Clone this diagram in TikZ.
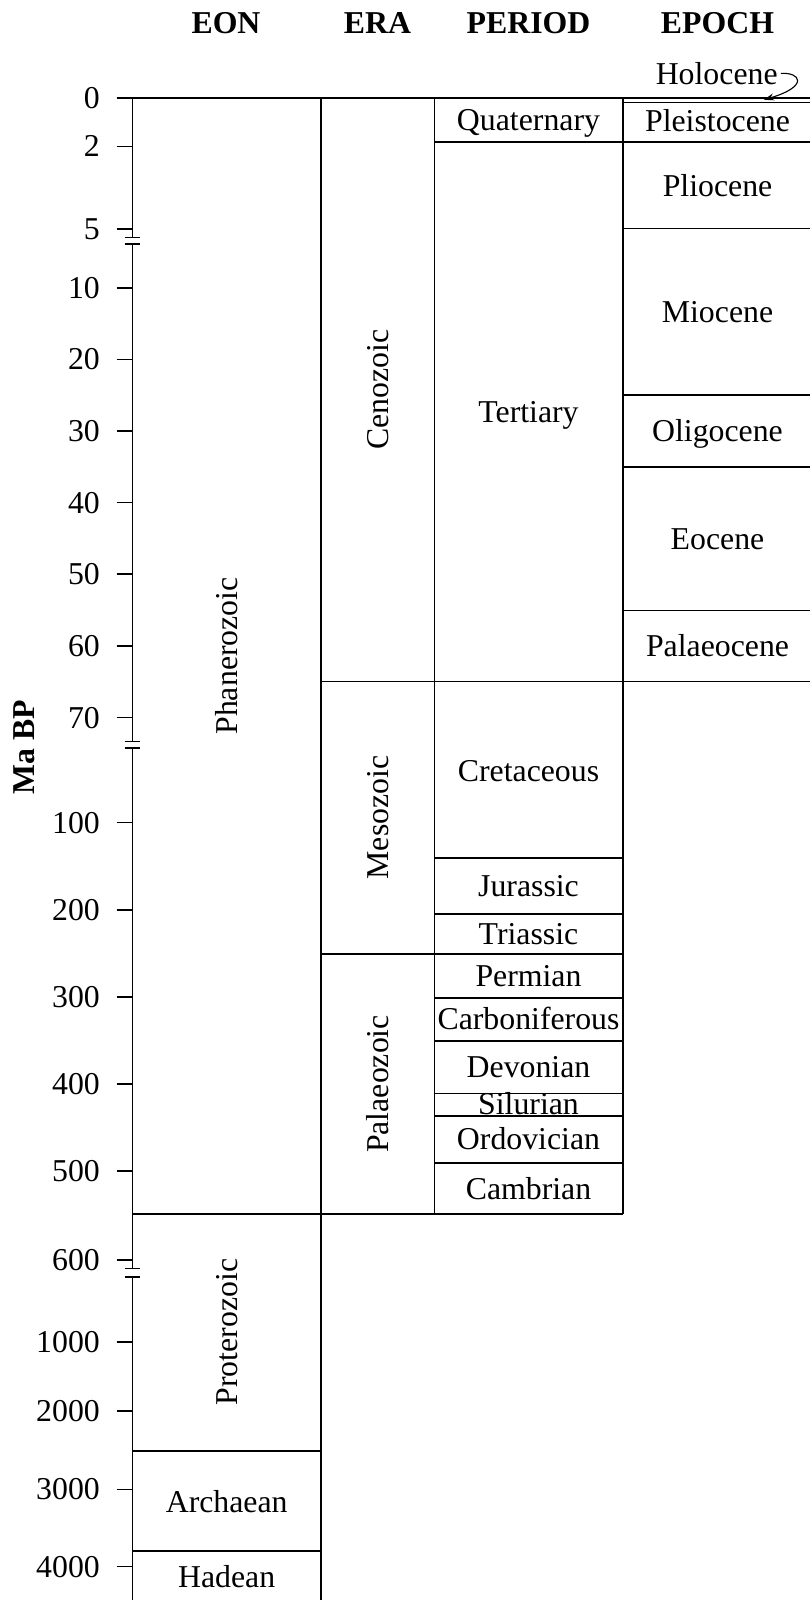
\documentclass[tikz,border=0pt]{standalone}
\usepackage{fontspec}
\setmainfont{Liberation Serif}
\usetikzlibrary{arrows.meta}
\begin{document}
\begin{tikzpicture}[x=1pt,y=-1pt,
  rule/.style={line width=1.6pt},
  lbl/.style={anchor=base, inner sep=0pt, font=\fontsize{31.8}{38}\selectfont},
  vlbl/.style={lbl, rotate=90},
  hdr/.style={anchor=base, inner sep=0pt, font=\fontsize{31.8}{38}\selectfont\bfseries},
  ticklbl/.style={anchor=base east, inner sep=0pt, font=\fontsize{31.8}{38}\selectfont},
  pointer/.style={line width=1.1pt, -{Stealth[length=10pt,width=7pt]}}]
\useasboundingbox (0,0) rectangle (810,1600);
\clip (0,0) rectangle (810,1600);

% headers
\node[hdr] (hEon) at (226,33.3) {EON};
\node[hdr] (hEra) at (377.5,33.3) {ERA};
\node[hdr] (hPer) at (528.5,33.3) {PERIOD};
\node[hdr] (hEpo) at (717.5,33.3) {EPOCH};
\node[hdr, rotate=90] (maBP) at (34.3,747) {Ma BP};

% axis with breaks
\draw[rule] (132.3,97.9) -- (132.3,237.3);
\draw[rule] (132.3,243.7) -- (132.3,741.4);
\draw[rule] (132.3,748.2) -- (132.3,1268.3);
\draw[rule] (132.3,1276.7) -- (132.3,1610);
\foreach \yb in {237.3,243.7,741.4,748.2,1268.3,1276.7}
  \draw[rule] (124.5,\yb) -- (139.8,\yb);

% ticks and labels
\foreach \v/\yt in {0/97.9,2/146.3,5/228.7,10/287.7,20/359.3,30/430.9,40/502.6,50/574.2,60/645.8,70/717.6,100/822.6,200/909.7,300/996.8,400/1083.9,500/1171,600/1260,1000/1341.7,2000/1411,3000/1489.4,4000/1566.5}{
  \draw[rule] (116.7,\yt) -- (132.3,\yt);
  \node[ticklbl] (tick\v) at (100,\yt+10.5) {\v};
}

% top border and vertical rules
\draw[rule] (116.7,97.9) -- (815,97.9);
\draw[rule] (321,97.9) -- (321,1610);
\draw[rule] (434.3,97.9) -- (434.3,1214);
\draw[rule] (622.8,97.9) -- (622.8,1214);

% epoch boundaries
\draw[rule] (622.8,102.4) -- (815,102.4);
\foreach \yb in {228.5,395.0,467.0,610.5}
  \draw[rule] (622.8,\yb) -- (815,\yb);
% Quaternary / Tertiary
\draw[rule] (434.3,141.9) -- (815,141.9);
% Cenozoic / Mesozoic
\draw[rule] (321,681.5) -- (815,681.5);
% periods
\foreach \yb in {858.1,914,997.8,1041.1,1093.5,1115.7,1162.8}
  \draw[rule] (434.3,\yb) -- (622.8,\yb);
\draw[rule] (321,953.8) -- (622.8,953.8);
\draw[rule] (132.3,1214) -- (622.8,1214);
\draw[rule] (132.3,1450.7) -- (321,1450.7);
\draw[rule] (132.3,1551) -- (321,1551);

% eons
\node[vlbl] (phan) at (237.2,656) {Phanerozoic};
\node[vlbl] (prot) at (237.2,1332) {Proterozoic};
\node[lbl] (arch) at (226.7,1512) {Archaean};
\node[lbl] (hade) at (226.7,1587.5) {Hadean};

% eras
\node[vlbl] (ceno) at (388.2,389.5) {Cenozoic};
\node[vlbl] (meso) at (388.2,817.5) {Mesozoic};
\node[vlbl] (palz) at (388.2,1084) {Palaeozoic};

% periods
\node[lbl] (quat) at (528.5,131) {Quaternary};
\node[lbl] (tert) at (528.5,422) {Tertiary};
\node[lbl] (cret) at (528.5,781) {Cretaceous};
\node[lbl] (jura) at (528.5,896) {Jurassic};
\node[lbl] (tria) at (528.5,944.2) {Triassic};
\node[lbl] (perm) at (528.5,986.3) {Permian};
\node[lbl] (carb) at (528.5,1029.6) {Carboniferous};
\node[lbl] (devo) at (528.5,1077.5) {Devonian};
\node[lbl] (silu) at (528.5,1114) {Silurian};
\node[lbl] (ordo) at (528.5,1149.5) {Ordovician};
\node[lbl] (camb) at (528.5,1199) {Cambrian};

% epochs
\node[lbl] (pleis) at (717.5,131.5) {Pleistocene};
\node[lbl] (plio) at (717.5,196) {Pliocene};
\node[lbl] (mio) at (717.5,322.5) {Miocene};
\node[lbl] (oligo) at (717.5,441.5) {Oligocene};
\node[lbl] (eoc) at (717.5,549.5) {Eocene};
\node[lbl] (palc) at (717.5,656.5) {Palaeocene};

% Holocene with pointer
\node[lbl, inner xsep=3pt] (holo) at (716.7,84.3) {Holocene};
\coordinate (holotip) at (764,99.8);
\draw[pointer] (holo.east) .. controls (800,72) and (810,86) .. (holotip);
\end{tikzpicture}
\end{document}
